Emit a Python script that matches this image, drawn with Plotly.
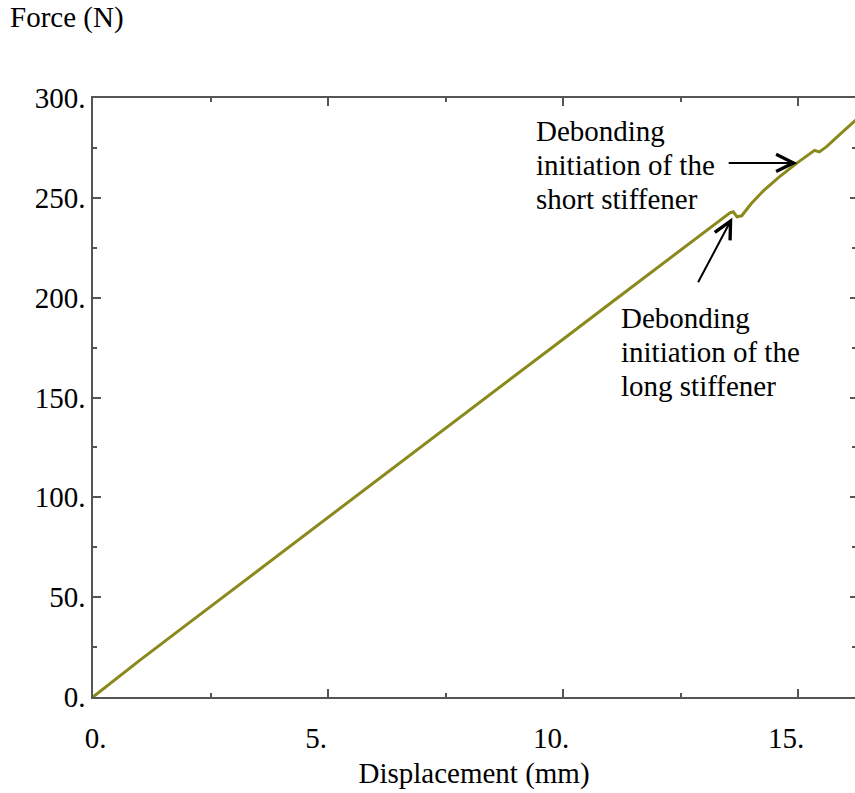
import plotly.graph_objects as go

# Load-displacement record of the stiffened panel
displacement_mm = [0.0, 0.3, 1.0, 2.0, 3.0, 4.0, 5.0, 6.0, 7.0, 8.0, 9.0, 10.0,
                   11.0, 12.0, 13.0, 13.55, 13.62, 13.70, 13.8, 14.0, 14.26,
                   14.6, 14.98, 15.2, 15.35, 15.45, 15.6, 15.9, 16.3]
force_N = [0.0, 5.6, 18.5, 36.4, 54.2, 72.1, 90.0, 107.8, 125.6, 143.5, 161.3, 179.2,
           197.1, 214.9, 232.8, 242.5, 243.0, 240.5, 241.0, 247.0, 253.5,
           260.5, 267.5, 271.5, 273.8, 273.0, 275.5, 282.0, 290.5]

x_ticks = [0, 5, 10, 15]
x_tick_text = ["\u2002\u20020.", "5.", "10.", "15."]
y_ticks = [0, 50, 100, 150, 200, 250, 300]
y_tick_text = ["0.", "50.", "100.", "150.", "200.", "250.", "300."]

# Events marked on the curve: (displacement, force, arrow offset x, arrow offset y)
events = [
    (14.98, 267.5, -70, 0),
    (13.60, 240.0, -35, 66),
]
# Callout text, one entry per line: (displacement, force, text)
event_lines = [
    (9.38, 283.4, "Debonding"),
    (9.38, 266.4, "initiation of the"),
    (9.38, 249.4, "short stiffener"),
    (11.20, 189.8, "Debonding"),
    (11.20, 172.8, "initiation of the"),
    (11.20, 156.0, "long stiffener"),
]

FONT = "Liberation Serif, Times New Roman, serif"
FS = 29
CURVE = "#8a8a1c"
AXIS = "#555555"

fig = go.Figure()
fig.add_trace(go.Scatter(
    x=displacement_mm, y=force_N, mode="lines",
    line=dict(color=CURVE, width=3), showlegend=False, hoverinfo="skip",
))
# Invisible trace to carry the right-hand tick marks
fig.add_trace(go.Scatter(
    x=[displacement_mm[0]], y=[force_N[0]], yaxis="y2", mode="lines",
    line=dict(width=0), showlegend=False, hoverinfo="skip",
))

for x, y, ax, ay in events:
    fig.add_annotation(
        x=x, y=y, ax=ax, ay=ay, text="", showarrow=True,
        arrowhead=5, arrowsize=1.7, arrowwidth=2, arrowcolor="black",
    )
for x, y, txt in event_lines:
    fig.add_annotation(
        x=x, y=y, text=txt, showarrow=False,
        xanchor="left", yanchor="middle",
        font=dict(family=FONT, size=FS, color="black"),
    )

fig.add_annotation(
    xref="paper", yref="paper", x=-0.112, y=1.135, text="Force (N)",
    showarrow=False, xanchor="left", yanchor="middle",
    font=dict(family=FONT, size=FS, color="black"),
)

fig.update_layout(
    width=855, height=793,
    margin=dict(l=93, r=0, t=98, b=96),
    paper_bgcolor="white", plot_bgcolor="white",
    font=dict(family=FONT, size=FS, color="black"),
    xaxis=dict(
        range=[0, 16.21], showgrid=False, zeroline=False,
        showline=True, linecolor=AXIS, linewidth=1.5, mirror="ticks",
        ticks="inside", ticklen=8, tickwidth=1.5, tickcolor=AXIS,
        tickvals=x_ticks, ticktext=x_tick_text,
        ticklabelshift=-12, ticklabelstandoff=14,
        minor=dict(ticks="inside", ticklen=4, tickwidth=1.5, tickcolor=AXIS, dtick=2.5, showgrid=False),
        title=dict(text="Displacement (mm)", standoff=10,
                   font=dict(family=FONT, size=FS, color="black")),
    ),
    yaxis=dict(
        range=[0, 300], showgrid=False, zeroline=False,
        showline=True, linecolor=AXIS, linewidth=1.5, mirror=False,
        ticks="inside", ticklen=8, tickwidth=1.5, tickcolor=AXIS,
        tickvals=y_ticks, ticktext=y_tick_text, ticklabelstandoff=0,
        minor=dict(ticks="inside", ticklen=4, tickwidth=1.5, tickcolor=AXIS, dtick=25, showgrid=False),
    ),
    yaxis2=dict(
        range=[0, 300], overlaying="y", side="right", showgrid=False, zeroline=False,
        showline=False, showticklabels=False,
        ticks="inside", ticklen=5, tickwidth=1.5, tickcolor=AXIS,
        tickvals=y_ticks,
        minor=dict(ticks="inside", ticklen=3, tickwidth=1.5, tickcolor=AXIS, dtick=25, showgrid=False),
    ),
)

fig.write_html("out.html")
